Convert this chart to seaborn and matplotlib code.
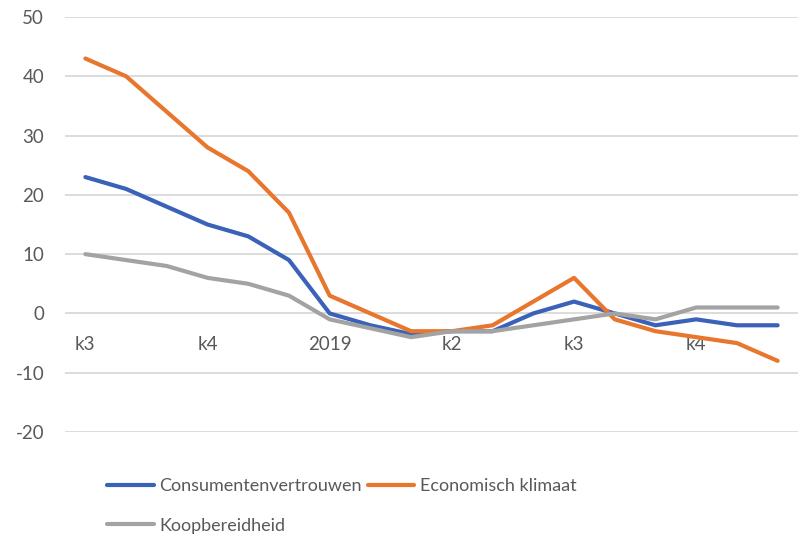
import pandas as pd
import matplotlib.pyplot as plt
import seaborn as sns

# Maandelijkse indicatoren, juli 2018 t/m december 2019
maanden = list(range(18))
consumentenvertrouwen = [23, 21, 18, 15, 13, 9, 0, -2, -3.5, -3, -3, 0, 2, 0, -2, -1, -2, -2]
economisch_klimaat = [43, 40, 34, 28, 24, 17, 3, 0, -3, -3, -2, 2, 6, -1, -3, -4, -5, -8]
koopbereidheid = [10, 9, 8, 6, 5, 3, -1, -2.5, -4, -3, -3, -2, -1, 0, -1, 1, 1, 1]
tick_pos = [0, 3, 6, 9, 12, 15]
tick_labels = ["k3", "k4", "2019", "k2", "k3", "k4"]

df = pd.DataFrame({
    "maand": maanden * 3,
    "waarde": consumentenvertrouwen + economisch_klimaat + koopbereidheid,
    "reeks": (["Consumentenvertrouwen"] * 18 + ["Economisch klimaat"] * 18
              + ["Koopbereidheid"] * 18),
})

sns.set_style("white")
plt.rcParams["font.family"] = ["Lato", "DejaVu Sans"]
plt.rcParams["axes.unicode_minus"] = False
grijs = "#595959"

fig = plt.figure(figsize=(8.01, 5.38), dpi=100)
ax = fig.add_axes([65 / 801, 106 / 538, 733 / 801, 415 / 538])

kleuren = {"Consumentenvertrouwen": "#3A62B8",
           "Economisch klimaat": "#E8762D",
           "Koopbereidheid": "#A3A3A3"}
sns.lineplot(data=df, x="maand", y="waarde", hue="reeks", palette=kleuren,
             linewidth=3, ax=ax, legend=True)

ax.set_xlim(-0.5, 17.5)
ax.set_ylim(-20, 50)
ax.set_yticks(range(-20, 51, 10))
ax.grid(axis="y", color="#D9D9D9", linewidth=1.3)
ax.set_axisbelow(True)
for s in ax.spines.values():
    s.set_visible(False)
ax.spines["bottom"].set_position(("data", 0))
ax.set_xticks(tick_pos)
ax.set_xticklabels(tick_labels)
ax.tick_params(axis="x", length=0, pad=16, labelsize=13.5, labelcolor=grijs)
ax.tick_params(axis="y", length=0, pad=15, labelsize=13.5, labelcolor=grijs)
ax.set_xlabel("")
ax.set_ylabel("")

handles, labels = ax.get_legend_handles_labels()
ax.legend_.remove()
volgorde = [0, 2, 1]
leg = fig.legend([handles[i] for i in volgorde], [labels[i] for i in volgorde],
                 loc="upper left", bbox_to_anchor=(100 / 801, 1 - 471 / 538),
                 ncol=2, frameon=False, fontsize=13, handlelength=2.6,
                 handletextpad=0.3, columnspacing=0.3, labelspacing=1.3,
                 borderaxespad=0)
for t in leg.get_texts():
    t.set_color(grijs)
for h in leg.get_lines():
    h.set_linewidth(3)

fig.savefig("out.png", dpi=100)
plt.close()
